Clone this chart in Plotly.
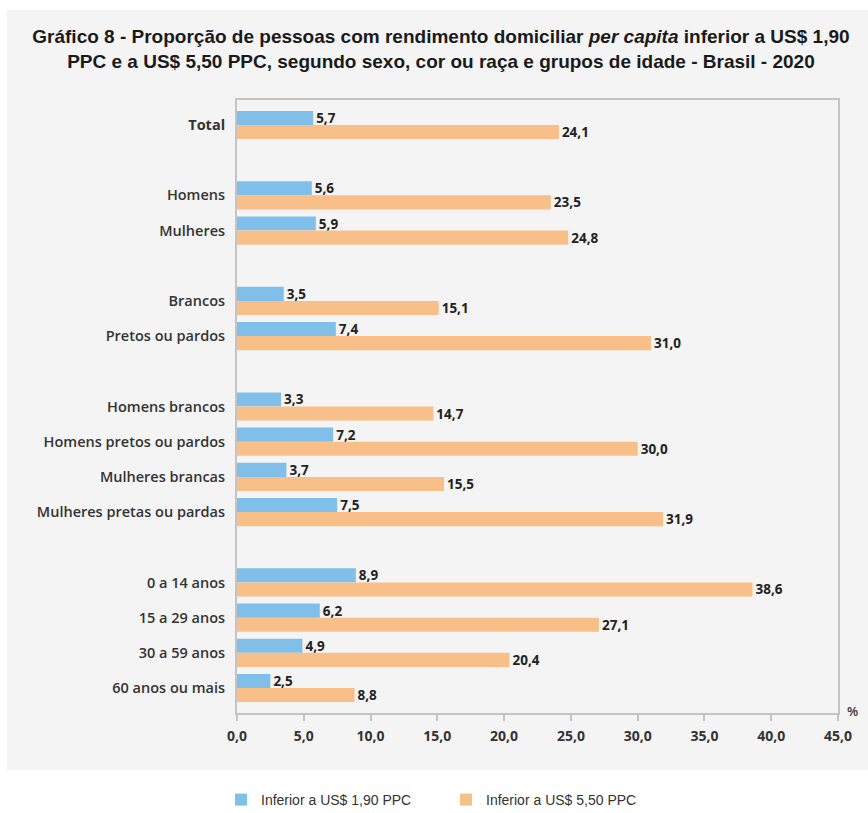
import plotly.graph_objects as go

categories = ["<b>Total</b>", " ", "Homens", "Mulheres", "  ", "Brancos", "Pretos ou pardos", "   ",
              "Homens brancos", "Homens pretos ou pardos", "Mulheres brancas", "Mulheres pretas ou pardas", "    ",
              "0 a 14 anos", "15 a 29 anos", "30 a 59 anos", "60 anos ou mais"]
bar_categories = ["<b>Total</b>", "Homens", "Mulheres", "Brancos", "Pretos ou pardos",
                  "Homens brancos", "Homens pretos ou pardos", "Mulheres brancas", "Mulheres pretas ou pardas",
                  "0 a 14 anos", "15 a 29 anos", "30 a 59 anos", "60 anos ou mais"]
values_190 = [5.7, 5.6, 5.9, 3.5, 7.4, 3.3, 7.2, 3.7, 7.5, 8.9, 6.2, 4.9, 2.5]
values_550 = [24.1, 23.5, 24.8, 15.1, 31.0, 14.7, 30.0, 15.5, 31.9, 38.6, 27.1, 20.4, 8.8]
series_names = ["Inferior a US$ 1,90 PPC", "Inferior a US$ 5,50 PPC"]
x_ticks = [0, 5, 10, 15, 20, 25, 30, 35, 40, 45]
x_ticklabels = ["0,0", "5,0", "10,0", "15,0", "20,0", "25,0", "30,0", "35,0", "40,0", "45,0"]

BLUE = "#80BFEA"
ORANGE = "#F9BF88"
TXT = "#333333"
SANS = "Open Sans, Liberation Sans, Arial, sans-serif"

def fmt(v):
    return f"{v:.1f}".replace(".", ",")

fig = go.Figure()
for name, vals, col in [(series_names[0], values_190, BLUE), (series_names[1], values_550, ORANGE)]:
    fig.add_trace(go.Bar(
        y=bar_categories, x=vals, name=name, orientation="h",
        marker=dict(color=col, line=dict(width=0)),
        text=[fmt(v) for v in vals], textposition="outside", cliponaxis=False,
        constraintext="none",
        textfont=dict(family=SANS, size=13.5, color="#222222", weight="bold"),
    ))

fig.update_layout(
    width=868, height=813,
    margin=dict(l=237, r=30, t=100, b=100, autoexpand=False),
    paper_bgcolor="white", plot_bgcolor="white",
    barmode="group", bargap=0.2, bargroupgap=0,
    font=dict(family=SANS, size=13, color=TXT),
    title=dict(
        text="Gráfico 8 - Proporção de pessoas com rendimento domiciliar <i>per capita</i> inferior a US$ 1,90<br>"
             "PPC e a US$ 5,50 PPC, segundo sexo, cor ou raça e grupos de idade - Brasil - 2020",
        x=0.508, xanchor="center", xref="container", y=1 - 43 / 813, yanchor="middle",
        font=dict(family="Liberation Sans, Arial, sans-serif",
                  size=19, color="#1a1a1a", weight="bold"),
    ),
    xaxis=dict(range=[0, 45], tickvals=x_ticks, ticktext=x_ticklabels,
               showgrid=False, zeroline=False, showline=True, linecolor="#C4C4C4", linewidth=2,
               mirror=True, ticks="outside", ticklen=6, tickcolor="#C4C4C4", tickwidth=2,
               ticklabelstandoff=3,
               tickfont=dict(family=SANS, size=14, color=TXT, weight="bold")),
    yaxis=dict(categoryorder="array", categoryarray=categories, autorange=False,
               range=[16.71, -0.71], showgrid=False, zeroline=False, showline=True,
               linecolor="#C4C4C4", linewidth=2, mirror=True, ticks="", ticklabelstandoff=7,
               tickfont=dict(family=SANS, size=14.5, color=TXT, weight=600)),
    legend=dict(orientation="h", x=(221 - 237) / 601, xanchor="left", y=(713 - 800) / 613, yanchor="middle",
                font=dict(family="Liberation Sans, Arial, sans-serif", size=14, color=TXT),
                entrywidth=180, entrywidthmode="pixels", bgcolor="rgba(0,0,0,0)"),
    showlegend=True,
)

fig.add_shape(type="rect", xref="paper", yref="paper",
              x0=(7 - 237) / 601, x1=(868 - 237) / 601,
              y0=(713 - 770) / 613, y1=(713 - 10) / 613,
              fillcolor="#F4F4F4", line=dict(width=0), layer="below")

fig.add_annotation(text="%", xref="paper", yref="paper", x=(852 - 237) / 601, y=(713 - 711) / 613,
                   showarrow=False, font=dict(family=SANS, size=13, color=TXT, weight=600),
                   xanchor="center", yanchor="middle")

fig.write_html("out.html", post_script="document.body.style.margin='0';",
               config={"displayModeBar": False})
